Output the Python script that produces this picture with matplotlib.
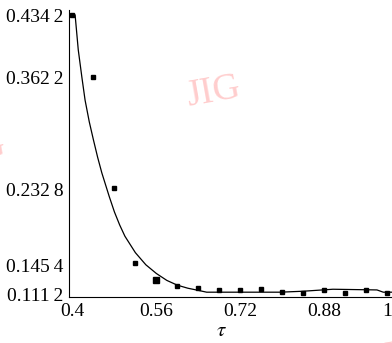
"""Fitted curve vs. sample points over tau (reconstruction)."""
import matplotlib
matplotlib.use("Agg")  # non-interactive backend
import matplotlib.pyplot as plt  # noqa: E402

# ── data ─────────────────────────────────────────────────────────────
tau_points = [0.40, 0.44, 0.48, 0.52, 0.56, 0.60, 0.64, 0.68,
              0.72, 0.76, 0.80, 0.84, 0.88, 0.92, 0.96, 1.00]
val_points = [0.4342, 0.3622, 0.2345, 0.1485, 0.1285, 0.1220, 0.1197, 0.1170,
              0.1170, 0.1178, 0.1147, 0.1132, 0.1166, 0.1132, 0.1170, 0.1139]

tau_curve = [0.405, 0.411, 0.418, 0.424, 0.432, 0.440, 0.448, 0.456, 0.470,
             0.480, 0.490, 0.500, 0.520, 0.540, 0.560, 0.580, 0.600, 0.620,
             0.640, 0.656, 0.796, 0.840, 0.897, 0.981, 0.993, 1.012]
val_curve = [0.4342, 0.394, 0.362, 0.336, 0.311, 0.290, 0.270, 0.252, 0.225,
             0.207, 0.192, 0.179, 0.160, 0.146, 0.136, 0.128, 0.1225, 0.119,
             0.1165, 0.1144, 0.1144, 0.1155, 0.1178, 0.1170, 0.1144, 0.1144]

y_ticks = [0.1112, 0.1454, 0.2328, 0.3622, 0.4342]
x_ticks = [0.4, 0.56, 0.72, 0.88, 1.0]
x_labels = ["0.4", "0.56", "0.72", "0.88", "1"]

SERIF = ["Liberation Serif", "DejaVu Serif"]
plt.rcParams["font.family"] = SERIF
plt.rcParams["mathtext.fontset"] = "stix"

W, H = 392, 343


def fmt_tick(v: float) -> str:
    s = f"{v:.4f}"
    return s[:-1] + "\u2009" + s[-1]


fig = plt.figure(figsize=(W / 100, H / 100), dpi=100)
ax = fig.add_axes([69.3 / W, 1 - 297.3 / H, 1 - 69.3 / W, (297.3 - 10) / H])

ax.plot(tau_curve, val_curve, color="black", lw=0.9, clip_on=False)
sizes = [3.3] * len(tau_points)
sizes[4] = 4.6
for t, v, s in zip(tau_points, val_points, sizes):
    ax.plot(t, v, marker="s", ms=s, color="black", ls="none", clip_on=False)

ax.set_xlim(0.3939, 1.0097)
ax.set_ylim(0.1085, 0.4400)
ax.set_xticks(x_ticks)
ax.set_xticklabels(x_labels)
ax.set_yticks(y_ticks)
ax.set_yticklabels([fmt_tick(v) for v in y_ticks])
ax.tick_params(length=0, labelsize=14, pad=4)

for side in ("top", "right"):
    ax.spines[side].set_visible(False)
for side in ("left", "bottom"):
    ax.spines[side].set_linewidth(0.8)

ax.set_xlabel(r"$\tau$", fontsize=15, labelpad=0)
ax.xaxis.set_label_coords((221 - 69.3) / (W - 69.3), -0.085)

# watermark
wm = dict(color="#ffc8c8", fontsize=27, rotation=10, ha="center", va="center",
          alpha=0.9, zorder=0)
fig.text(213 / W, 1 - 92 / H, "JIG", **wm)
fig.text(-22 / W, 1 - 150 / H, "JIG", **wm)
fig.text(398 / W, 1 - 356 / H, "JIG", **wm)

fig.savefig("out.png", dpi=100)
plt.close(fig)
